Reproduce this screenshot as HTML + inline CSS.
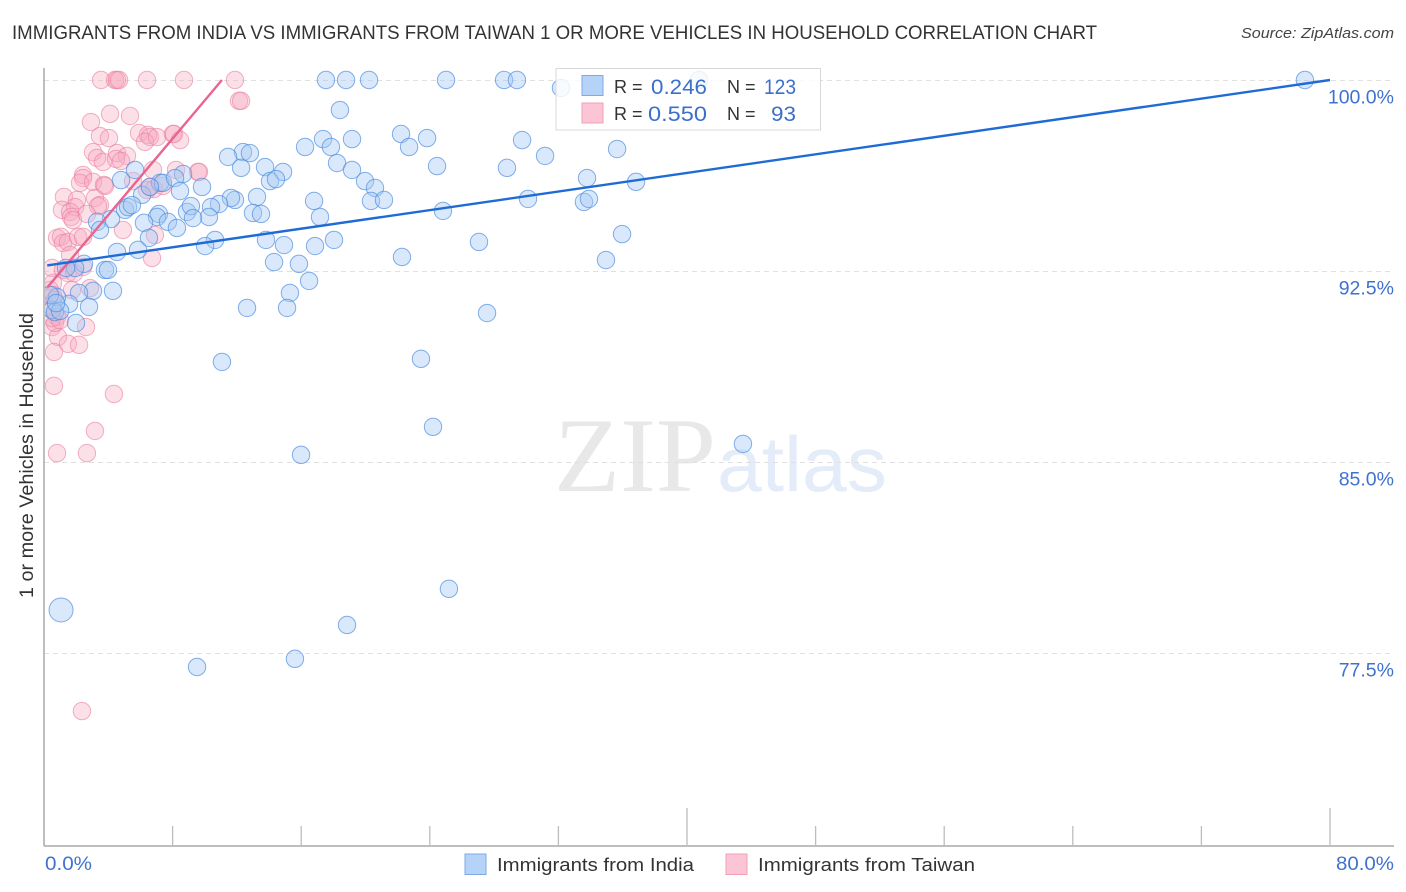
<!DOCTYPE html>
<html lang="en">
<head>
<meta charset="utf-8">
<title>Immigrants from India vs Immigrants from Taiwan Correlation Chart</title>
<style>
html,body{margin:0;padding:0;background:#fff;}
svg{display:block;font-family:"Liberation Sans",sans-serif;}
</style>
</head>
<body>
<svg id="chart" xmlns="http://www.w3.org/2000/svg" width="1406" height="892" viewBox="0 0 1406 892">
  <defs>
    <clipPath id="plot-clip"><rect x="45" y="60" width="1349" height="786"/></clipPath>
  </defs>
  <rect x="0" y="0" width="1406" height="892" fill="#fff"/>
  <text x="12" y="39" font-size="19" fill="#333" textLength="1085" lengthAdjust="spacingAndGlyphs">IMMIGRANTS FROM INDIA VS IMMIGRANTS FROM TAIWAN 1 OR MORE VEHICLES IN HOUSEHOLD CORRELATION CHART</text>
  <text x="1241" y="38" font-size="15" font-style="italic" fill="#444" textLength="153" lengthAdjust="spacingAndGlyphs">Source: ZipAtlas.com</text>
  <g>
    <text x="554" y="491" font-family="'Liberation Serif',serif" font-size="106" fill="#e8e8e8" textLength="162" lengthAdjust="spacingAndGlyphs">ZIP</text>
    <text x="717" y="491" font-size="78" fill="#e4ecf9" textLength="170" lengthAdjust="spacingAndGlyphs">atlas</text>
  </g>
  <g id="grid"></g>
  <g id="axes"></g>
  <g clip-path="url(#plot-clip)">
    <g id="taiwan-points"></g>
    <g id="india-points"></g>
  </g>
  <g id="trends"></g>
  <g id="labels"></g>
  <text transform="translate(33,598) rotate(-90)" font-size="19" fill="#333" textLength="285" lengthAdjust="spacingAndGlyphs">1 or more Vehicles in Household</text>
  <g>
    <rect x="556" y="68.5" width="264.5" height="61.5" fill="#fff" fill-opacity="0.82" stroke="#d8d8d8" stroke-width="1"/>
    <rect x="582" y="75.5" width="21" height="20" fill="#b5d2f8" stroke="#7fa9e4"/>
    <rect x="582" y="103" width="21" height="20" fill="#fcc5d6" stroke="#f0a0b8"/>
    <text x="614" y="93" font-size="18" fill="#333">R =</text>
    <text x="651" y="94" font-size="21" fill="#3a6fcc" textLength="56" lengthAdjust="spacingAndGlyphs">0.246</text>
    <text x="727" y="93" font-size="18" fill="#333">N =</text>
    <text x="764" y="94" font-size="21" fill="#3a6fcc" textLength="32" lengthAdjust="spacingAndGlyphs">123</text>
    <text x="614" y="120" font-size="18" fill="#333">R =</text>
    <text x="648" y="121" font-size="21" fill="#3a6fcc" textLength="59" lengthAdjust="spacingAndGlyphs">0.550</text>
    <text x="727" y="120" font-size="18" fill="#333">N =</text>
    <text x="771" y="121" font-size="21" fill="#3a6fcc" textLength="25" lengthAdjust="spacingAndGlyphs">93</text>
  </g>
  <g>
    <rect x="465" y="854" width="21" height="20.5" fill="#b5d2f8" stroke="#7fa9e4"/>
    <text x="497" y="871" font-size="18.5" fill="#333" textLength="197" lengthAdjust="spacingAndGlyphs">Immigrants from India</text>
    <rect x="726" y="854" width="21" height="20.5" fill="#fcc5d6" stroke="#f0a0b8"/>
    <text x="758" y="871" font-size="18.5" fill="#333" textLength="217" lengthAdjust="spacingAndGlyphs">Immigrants from Taiwan</text>
  </g>
</svg>
<script>
const yTickValues = [100, 92.5, 85, 77.5];
const yTickLabels = ["100.0%", "92.5%", "85.0%", "77.5%"];
const xTickValues = [8, 16, 24, 32, 40, 48, 56, 64, 72, 80];
const xMajorTicks = [40, 80];
const xEndLabels = ["0.0%", "80.0%"];
const indiaX = [17.54,18.79,20.22,25.01,28.62,29.42,40.75,78.44,32.16,18.41,22.21,23.83,17.36,19.16,29.74,16.24,17.85,22.71,35.65,12.38,12.81,11.45,31.17,18.23,24.45,28.80,13.75,12.26,19.16,14.87,8.65,5.66,4.79,14.06,14.43,19.97,7.22,7.40,8.15,33.78,36.83,9.83,8.46,20.59,6.10,6.59,13.25,11.88,11.63,16.80,10.89,20.34,21.15,30.11,33.59,33.90,8.90,9.14,10.39,5.04,5.23,5.47,13.00,13.50,24.82,17.17,10.26,9.27,7.15,7.03,6.22,7.71,8.27,4.17,3.30,3.48,35.96,6.53,13.81,18.04,10.64,27.06,14.93,10.02,16.86,5.85,4.54,22.27,34.96,14.31,15.86,3.79,3.98,2.49,1.93,1.37,16.49,15.30,4.29,3.05,2.18,12.63,15.12,27.56,2.80,1.56,0.50,0.81,0.37,0.68,1.00,1.99,0.75,23.45,11.07,24.20,43.48,15.99,25.19,18.85,15.61,9.52,1.06];
const indiaY = [100,100,100,100,100,100,100,100,99.69,98.82,97.88,97.72,97.68,97.68,97.64,97.37,97.37,97.37,97.29,97.17,97.13,96.98,97.02,96.74,96.62,96.55,96.58,96.55,96.47,96.39,96.31,96.47,96.07,96.03,96.11,96.03,95.96,95.96,96.15,96.15,96.00,95.80,95.64,95.76,95.49,95.80,95.41,95.29,95.37,95.25,95.13,95.25,95.29,95.33,95.21,95.33,94.82,95.05,95.01,94.90,95.01,95.09,94.78,94.74,94.86,94.62,94.62,94.58,94.74,94.62,94.39,94.43,94.19,94.54,94.43,94.11,93.95,93.80,93.72,93.72,93.72,93.64,93.52,93.48,93.48,93.33,93.25,93.05,92.93,92.85,92.78,92.54,92.54,92.78,92.62,92.62,92.11,91.64,91.72,91.72,91.64,91.05,91.05,90.85,91.09,91.21,90.97,91.48,91.56,90.89,90.93,90.46,91.24,89.05,88.93,86.38,85.71,85.28,80.02,78.60,77.27,76.95,79.19];
const taiwanX = [3.55,4.42,4.54,4.67,6.41,8.71,11.88,12.13,12.26,4.11,5.35,2.92,3.48,4.04,5.91,6.47,6.59,6.28,7.03,8.02,8.09,8.46,3.05,3.30,3.67,4.54,5.16,4.48,4.79,2.43,2.43,2.24,3.05,3.73,3.79,6.78,5.54,8.21,9.58,9.64,6.59,6.84,7.40,6.41,1.24,2.05,3.17,3.48,3.36,1.12,1.93,1.62,1.68,1.80,2.67,0.81,1.06,1.18,1.49,2.12,2.43,1.62,4.91,6.90,6.72,0.50,1.18,1.49,1.87,2.43,2.86,0.56,0.37,0.56,0.68,0.19,0.81,0.50,2.61,0.87,1.49,2.18,0.62,0.62,4.35,3.17,0.81,2.67,2.36,0.68,0.50,1.00,1.74];
const taiwanY = [100,100,100,100,100,100,100,99.18,99.18,98.67,98.59,98.35,97.80,97.72,97.92,97.84,97.76,97.57,97.76,97.88,97.88,97.64,97.17,96.94,96.78,97.13,97.02,96.90,96.82,96.27,96.15,95.96,96.00,95.88,95.84,96.47,96.03,96.47,96.39,96.39,95.80,95.72,95.84,95.68,95.41,95.29,95.37,95.09,95.05,94.90,95.01,94.82,94.62,94.50,94.74,93.80,93.84,93.60,93.64,93.84,93.84,93.13,94.11,93.91,93.01,92.62,92.54,92.42,92.42,92.66,91.83,92.03,91.76,91.56,91.36,91.09,90.70,90.30,90.30,89.91,89.64,89.60,89.32,87.99,87.67,86.22,85.35,85.35,75.22,90.46,90.65,90.57,91.75];
const indiaTrendX = [0.2, 80];
const indiaTrendY = [92.72, 100];
const taiwanTrendX = [0.2, 11.07];
const taiwanTrendY = [91.85, 100];
const indiaLargePoint = 122;

const NS = "http://www.w3.org/2000/svg";
function xScale(v){ return 44 + v * (1330 - 44) / 80; }
function yScale(v){ return 80 + (100 - v) * (653 - 80) / 22.5; }
function make(tag, attrs, parent){
  const el = document.createElementNS(NS, tag);
  for (const k in attrs) el.setAttribute(k, attrs[k]);
  parent.appendChild(el);
  return el;
}
const grid = document.getElementById("grid");
const axes = document.getElementById("axes");
const labels = document.getElementById("labels");
const trends = document.getElementById("trends");

yTickValues.forEach(function(v, i){
  const y = Math.round(yScale(v)) + 0.5;
  const line = make("line", {x1:44, x2:1394, y1:y, y2:y, stroke:"#e0e0e0", "stroke-width":1, "stroke-dasharray":"5 4"}, grid);
  
  
  const t = make("text", {x:1394, y:yScale(v) + 23.5, "text-anchor":"end", "font-size":19.5, fill:"#3f72d0"}, labels);
  t.textContent = yTickLabels[i];
  
  
});

const yAxis = make("line", {x1:44, x2:44, y1:68, y2:846, stroke:"#a8a8a8", "stroke-width":1.5}, axes);


const xAxis = make("line", {x1:44, x2:1394, y1:846, y2:846, stroke:"#a8a8a8", "stroke-width":1.5}, axes);



xTickValues.forEach(function(v){
  const x = xScale(v);
  const top = xMajorTicks.indexOf(v) >= 0 ? 808 : 826;
  const tick = make("line", {x1:x, x2:x, y1:top, y2:846, stroke:"#bdbdbd", "stroke-width":1.3}, axes);
  
  
});

const xLabelLeft = make("text", {x:xScale(0) + 1, y:870, "font-size":19.5, fill:"#3f72d0", textLength:47, lengthAdjust:"spacingAndGlyphs"}, labels);
xLabelLeft.textContent = xEndLabels[0];


const xLabelRight = make("text", {x:1336, y:870, "font-size":19.5, fill:"#3f72d0", textLength:58, lengthAdjust:"spacingAndGlyphs"}, labels);
xLabelRight.textContent = xEndLabels[1];



const taiwanGroup = document.getElementById("taiwan-points");
taiwanX.forEach(function(v, i){
  const c = make("circle", {cx:xScale(v), cy:yScale(taiwanY[i]), r:8.7, fill:"#f8a8c0", "fill-opacity":0.36, stroke:"#ec80a2", "stroke-opacity":0.62, "stroke-width":1}, taiwanGroup);
  
  
});

const indiaGroup = document.getElementById("india-points");
indiaX.forEach(function(v, i){
  const radius = i === indiaLargePoint ? 12 : 8.7;
  const c = make("circle", {cx:xScale(v), cy:yScale(indiaY[i]), r:radius, fill:"#a4c8f4", "fill-opacity":0.42, stroke:"#4a8ade", "stroke-opacity":0.68, "stroke-width":1}, indiaGroup);
  
  
});

const taiwanLine = make("line", {x1:xScale(taiwanTrendX[0]), y1:yScale(taiwanTrendY[0]), x2:xScale(taiwanTrendX[1]), y2:yScale(taiwanTrendY[1]), stroke:"#e9648f", "stroke-width":2.4}, trends);


const indiaLine = make("line", {x1:xScale(indiaTrendX[0]), y1:yScale(indiaTrendY[0]), x2:xScale(indiaTrendX[1]), y2:yScale(indiaTrendY[1]), stroke:"#1f6bd6", "stroke-width":2.4}, trends);


</script>
</body>
</html>
